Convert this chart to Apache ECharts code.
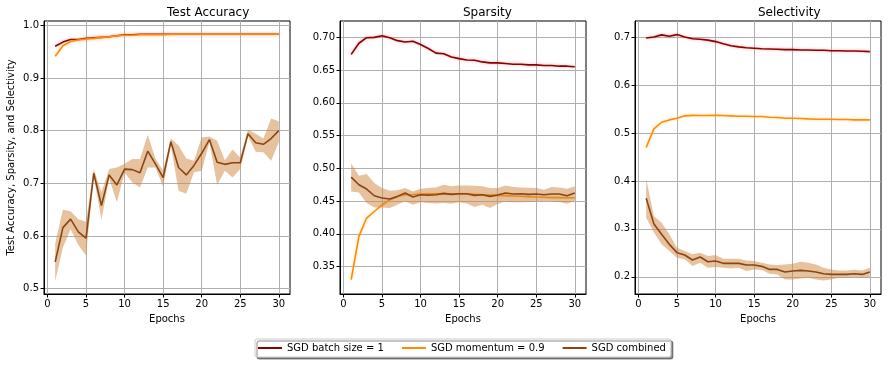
<!DOCTYPE html>
<html>
<head>
<meta charset="utf-8">
<script src="https://cdn.jsdelivr.net/npm/echarts@6/dist/echarts.min.js"></script>
<style>
  html, body { margin: 0; padding: 0; background: #fff; }
  #chart { width: 888px; height: 365px; }
</style>
</head>
<body>
<div id="chart"></div>
<script>
// epochs on the x axis
const epochs = [1, 2, 3, 4, 5, 6, 7, 8, 9, 10, 11, 12, 13, 14, 15, 16, 17, 18, 19, 20, 21, 22, 23, 24, 25, 26, 27, 28, 29, 30];
const seriesNames = ['SGD batch size = 1', 'SGD momentum = 0.9', 'SGD combined'];
const panelTitles = ['Test Accuracy', 'Sparsity', 'Selectivity'];

// Test Accuracy
const accBatch = [0.960, 0.968, 0.973, 0.973, 0.975, 0.976, 0.977, 0.978, 0.980, 0.982, 0.982, 0.983, 0.983, 0.983, 0.983, 0.983, 0.983, 0.983, 0.983, 0.983, 0.983, 0.983, 0.983, 0.983, 0.983, 0.983, 0.983, 0.983, 0.983, 0.983];
const accMomentum = [0.941, 0.961, 0.969, 0.972, 0.974, 0.975, 0.977, 0.978, 0.980, 0.981, 0.981, 0.982, 0.982, 0.982, 0.982, 0.983, 0.983, 0.983, 0.983, 0.983, 0.983, 0.983, 0.983, 0.983, 0.983, 0.983, 0.983, 0.983, 0.983, 0.983];
const accCombined = [0.551, 0.616, 0.632, 0.608, 0.596, 0.719, 0.658, 0.716, 0.697, 0.727, 0.726, 0.720, 0.761, 0.737, 0.711, 0.779, 0.730, 0.716, 0.734, 0.757, 0.783, 0.740, 0.736, 0.739, 0.739, 0.794, 0.777, 0.774, 0.785, 0.800];
const accCombinedLo = [0.514, 0.578, 0.613, 0.583, 0.563, 0.713, 0.631, 0.709, 0.664, 0.720, 0.702, 0.692, 0.730, 0.730, 0.694, 0.772, 0.686, 0.680, 0.721, 0.724, 0.778, 0.697, 0.724, 0.711, 0.727, 0.790, 0.760, 0.759, 0.743, 0.778];
const accCombinedHi = [0.586, 0.650, 0.647, 0.632, 0.627, 0.727, 0.683, 0.727, 0.730, 0.737, 0.746, 0.746, 0.792, 0.747, 0.724, 0.785, 0.772, 0.747, 0.743, 0.787, 0.789, 0.781, 0.744, 0.764, 0.749, 0.802, 0.794, 0.785, 0.823, 0.818];

// Sparsity
const sparBatch = [0.674, 0.691, 0.6995, 0.700, 0.7025, 0.6995, 0.695, 0.693, 0.694, 0.689, 0.683, 0.676, 0.675, 0.670, 0.6675, 0.6655, 0.665, 0.6625, 0.661, 0.661, 0.660, 0.659, 0.659, 0.658, 0.658, 0.657, 0.657, 0.656, 0.656, 0.655];
const sparMomentum = [0.330, 0.396, 0.424, 0.434, 0.444, 0.452, 0.457, 0.4597, 0.460, 0.4607, 0.461, 0.461, 0.461, 0.4607, 0.4607, 0.4607, 0.4602, 0.4597, 0.4592, 0.4587, 0.4582, 0.4577, 0.4572, 0.4567, 0.4562, 0.4557, 0.4552, 0.4552, 0.455, 0.455];
const sparCombined = [0.4866, 0.4749, 0.4683, 0.4581, 0.4546, 0.4531, 0.4571, 0.4622, 0.4561, 0.4597, 0.4591, 0.4597, 0.4617, 0.4602, 0.4612, 0.4612, 0.4586, 0.4597, 0.4571, 0.4591, 0.4622, 0.4607, 0.4612, 0.4602, 0.4607, 0.4597, 0.4607, 0.4607, 0.4581, 0.4622];
const sparCombinedLo = [0.4647, 0.4632, 0.4469, 0.4403, 0.4403, 0.4393, 0.4444, 0.4495, 0.4444, 0.448, 0.4469, 0.4464, 0.4469, 0.4459, 0.448, 0.4464, 0.4409, 0.4444, 0.4393, 0.4454, 0.4495, 0.448, 0.448, 0.4485, 0.4495, 0.4495, 0.4495, 0.4485, 0.4459, 0.4505];
const sparCombinedHi = [0.5079, 0.4886, 0.4912, 0.4774, 0.4698, 0.4658, 0.4663, 0.4698, 0.4647, 0.4688, 0.4698, 0.4708, 0.4749, 0.4724, 0.4739, 0.4739, 0.4734, 0.4724, 0.4698, 0.4698, 0.4739, 0.4713, 0.4708, 0.4703, 0.4698, 0.4673, 0.4713, 0.4708, 0.4688, 0.4724];

// Selectivity
const selBatch = [0.6986, 0.7007, 0.705, 0.702, 0.7056, 0.7007, 0.697, 0.696, 0.694, 0.691, 0.6867, 0.6825, 0.680, 0.678, 0.677, 0.676, 0.6755, 0.675, 0.6743, 0.6743, 0.6735, 0.6735, 0.6728, 0.6728, 0.672, 0.672, 0.6714, 0.6714, 0.6707, 0.670];
const selMomentum = [0.470, 0.5087, 0.5226, 0.5275, 0.531, 0.536, 0.537, 0.5366, 0.5366, 0.537, 0.5366, 0.536, 0.5352, 0.5352, 0.5345, 0.5345, 0.533, 0.5324, 0.531, 0.531, 0.5303, 0.5296, 0.529, 0.529, 0.529, 0.5282, 0.5282, 0.5275, 0.5275, 0.5275];
const selCombined = [0.364, 0.310, 0.2887, 0.2677, 0.2503, 0.2454, 0.2349, 0.2412, 0.2314, 0.2328, 0.228, 0.228, 0.228, 0.2244, 0.2244, 0.2217, 0.2154, 0.2154, 0.2098, 0.2119, 0.2133, 0.2119, 0.2098, 0.2063, 0.2049, 0.2049, 0.2049, 0.2063, 0.2049, 0.2098];
const selCombinedLo = [0.3236, 0.2922, 0.2677, 0.2538, 0.2398, 0.2363, 0.2223, 0.2293, 0.2189, 0.2203, 0.2189, 0.2175, 0.2189, 0.2119, 0.2154, 0.214, 0.2063, 0.2049, 0.1944, 0.1944, 0.1965, 0.1979, 0.1944, 0.1923, 0.1944, 0.1979, 0.1979, 0.1993, 0.1979, 0.1993];
const selCombinedHi = [0.404, 0.327, 0.313, 0.2887, 0.2608, 0.2538, 0.2468, 0.2503, 0.2433, 0.2454, 0.2377, 0.2377, 0.2377, 0.2342, 0.2328, 0.2293, 0.2258, 0.2244, 0.2258, 0.2272, 0.2314, 0.2293, 0.2258, 0.2189, 0.2154, 0.2133, 0.2133, 0.2147, 0.2133, 0.2189];

const FONT = 'DejaVu Sans';
const colors = ['#8b0000', '#ff8c00', '#8b4513'];
const halos = ['rgba(230, 90, 110, 0.55)', 'rgba(255, 180, 90, 0.5)', null];
const bandColor = 'rgba(205, 133, 63, 0.5)';

const grids = [
  { left: 44, width: 246, top: 21, height: 273 },
  { left: 340, width: 246, top: 21, height: 273 },
  { left: 635, width: 246, top: 21, height: 273 }
];
const yRanges = [[0.49, 1.008], [0.308, 0.725], [0.164, 0.734]];
const yDigits = [1, 2, 1];
const ySplit = [5, 8, 5];

function pairs(ys) {
  return epochs.map((e, i) => [e, ys[i]]);
}

function lineSeries(name, idx, ys, color, halo, z) {
  const lineStyle = { color: color, width: 1.6 };
  if (halo) {
    lineStyle.shadowColor = halo;
    lineStyle.shadowBlur = 3;
  }
  return {
    name: name,
    type: 'line',
    xAxisIndex: idx,
    yAxisIndex: idx,
    data: pairs(ys),
    symbol: 'none',
    color: color,
    lineStyle: lineStyle,
    z: z,
    animation: false
  };
}

// shaded band between lo and hi, drawn as one polygon through the axis scales
function bandSeries(idx, lo, hi, color, z) {
  return {
    type: 'custom',
    xAxisIndex: idx,
    yAxisIndex: idx,
    data: epochs.map((e, i) => [e, lo[i], hi[i]]),
    encode: { x: 0, y: [1, 2] },
    silent: true,
    z: z,
    animation: false,
    renderItem: function (params, api) {
      if (params.dataIndex !== 0) return null;
      const top = epochs.map((e, i) => api.coord([e, hi[i]]));
      const bottom = epochs.map((e, i) => api.coord([e, lo[i]])).reverse();
      return {
        type: 'polygon',
        shape: { points: top.concat(bottom) },
        style: { fill: color, stroke: null }
      };
    }
  };
}

const panels = [
  [accBatch, accMomentum, accCombined, accCombinedLo, accCombinedHi],
  [sparBatch, sparMomentum, sparCombined, sparCombinedLo, sparCombinedHi],
  [selBatch, selMomentum, selCombined, selCombinedLo, selCombinedHi]
];

let series = [];
panels.forEach((p, idx) => {
  series.push(lineSeries(seriesNames[0], idx, p[0], colors[0], halos[0], 3));
  series.push(lineSeries(seriesNames[1], idx, p[1], colors[1], halos[1], 4));
  series.push(bandSeries(idx, p[3], p[4], bandColor, 5));
  series.push(lineSeries(seriesNames[2], idx, p[2], colors[2], halos[2], 6));
});

const xAxes = grids.map((g, idx) => ({
  type: 'value',
  gridIndex: idx,
  min: -0.45,
  max: 31.45,
  name: 'Epochs',
  nameLocation: 'middle',
  nameGap: 20,
  nameTextStyle: { fontFamily: FONT, fontSize: 10, color: '#000' },
  axisLine: { show: true, onZero: false, lineStyle: { color: '#000', width: 1 } },
  axisTick: { show: true, length: 3.5, lineStyle: { color: '#000' } },
  axisLabel: {
    fontFamily: FONT, fontSize: 10, color: '#000', margin: 5,
    showMinLabel: false, showMaxLabel: false,
    formatter: v => (Math.abs(v % 5) < 1e-6 ? String(v) : '')
  },
  splitLine: { show: true, showMinLine: false, showMaxLine: false, lineStyle: { color: '#b0b0b0', width: 1 } }
}));

const yAxes = grids.map((g, idx) => ({
  type: 'value',
  gridIndex: idx,
  min: yRanges[idx][0],
  max: yRanges[idx][1],
  splitNumber: ySplit[idx],
  name: idx === 0 ? 'Test Accuracy, Sparsity, and Selectivity' : '',
  nameLocation: 'middle',
  nameRotate: 90,
  nameGap: 28,
  nameTextStyle: { fontFamily: FONT, fontSize: 10, color: '#000' },
  axisLine: { show: true, onZero: false, lineStyle: { color: '#000', width: 1 } },
  axisTick: { show: true, length: 3.5, lineStyle: { color: '#000' } },
  axisLabel: {
    fontFamily: FONT, fontSize: 10, color: '#000', margin: 5,
    showMinLabel: false, showMaxLabel: false,
    formatter: v => v.toFixed(yDigits[idx])
  },
  splitLine: { show: true, showMinLine: false, showMaxLine: false, lineStyle: { color: '#b0b0b0', width: 1 } }
}));

const titles = grids.map((g, idx) => ({
  type: 'text',
  left: g.left + g.width / 2,
  top: 7,
  style: {
    text: panelTitles[idx],
    font: '12px "DejaVu Sans"',
    fill: '#000',
    textAlign: 'center'
  }
}));

const option = {
  backgroundColor: '#fff',
  animation: false,
  grid: grids.map(g => Object.assign({ show: true, borderColor: '#000', borderWidth: 1, backgroundColor: 'transparent', containLabel: false }, g)),
  xAxis: xAxes,
  yAxis: yAxes,
  graphic: titles,
  legend: {
    data: seriesNames,
    left: 255,
    top: 339,
    width: 420,
    padding: [4, 5, 4, 3],
    itemGap: 18,
    itemWidth: 24,
    itemHeight: 2,
    icon: 'rect',
    borderColor: '#ccc',
    borderWidth: 1,
    borderRadius: 2,
    backgroundColor: '#fff',
    shadowColor: 'rgba(0,0,0,0.45)',
    shadowBlur: 0,
    shadowOffsetX: 2,
    shadowOffsetY: 2,
    textStyle: { fontFamily: FONT, fontSize: 10, color: '#000' }
  },
  series: series
};

const myChart = echarts.init(document.getElementById('chart'), null, { renderer: 'canvas' });
myChart.setOption(option);
</script>
</body>
</html>
